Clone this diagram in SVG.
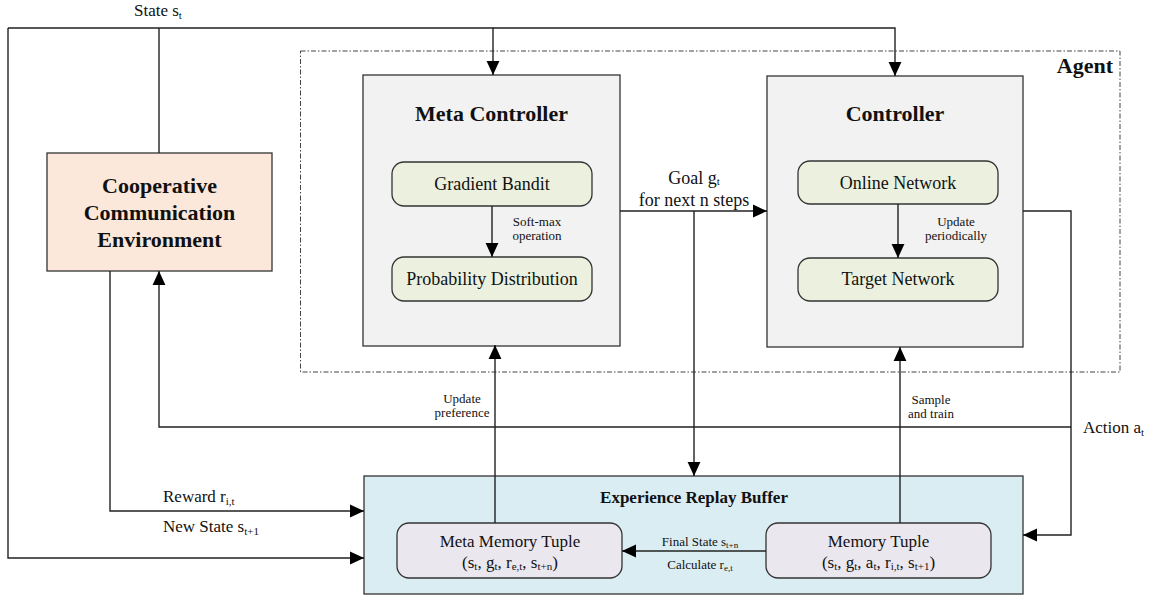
<svg xmlns="http://www.w3.org/2000/svg" width="1154" height="599" viewBox="0 0 1154 599">
<style>
text{font-family:"Liberation Serif","Times New Roman",serif;fill:#111}
.b{font-weight:bold}
.t22{font-size:22px}
.t18{font-size:18px}
.t17{font-size:17px}
.t13{font-size:13px}
.sub{font-size:11px}
.sub9{font-size:9px}
.box{stroke:#333;stroke-width:1.3}
.ln{fill:none;stroke:#222;stroke-width:1.4}
.arr{marker-end:url(#ah)}
</style>
<defs>
<marker id="ah" markerUnits="userSpaceOnUse" markerWidth="14" markerHeight="14" viewBox="0 0 12 12" refX="12" refY="6" orient="auto">
<path d="M0,0.5 L12,6 L0,11.5 Z" fill="#000"/>
</marker>
</defs>
<rect width="1154" height="599" fill="#fff"/>

<g id="agent">
<rect x="300.5" y="51" width="819.5" height="321" fill="none" stroke="#444" stroke-width="1" stroke-dasharray="5 2 1.5 2"/>
<text class="b t22" x="1113" y="73" text-anchor="end">Agent</text>
</g>

<g id="env">
<rect class="box" x="47" y="153" width="225" height="118" fill="#fce8db"/>
<text class="b t22" x="159.5" y="193" text-anchor="middle">Cooperative</text>
<text class="b t22" x="159.5" y="220" text-anchor="middle">Communication</text>
<text class="b t22" x="159.5" y="247" text-anchor="middle">Environment</text>
</g>

<g id="meta-controller">
<rect class="box" x="363" y="75" width="257" height="271" fill="#f2f2f2"/>
<text class="b t22" x="491.5" y="121" text-anchor="middle">Meta Controller</text>
</g>
<g id="gradient-bandit">
<rect class="box" x="392" y="162" width="200" height="44" rx="12" fill="#ebf1de"/>
<text class="t18" x="492" y="190" text-anchor="middle">Gradient Bandit</text>
</g>
<g id="probability-distribution">
<rect class="box" x="392" y="257" width="200" height="44" rx="12" fill="#ebf1de"/>
<text class="t18" x="492" y="285" text-anchor="middle">Probability Distribution</text>
</g>

<g id="controller">
<rect class="box" x="767" y="76" width="256" height="271" fill="#f2f2f2"/>
<text class="b t22" x="895" y="121" text-anchor="middle">Controller</text>
</g>
<g id="online-network">
<rect class="box" x="798" y="161" width="200" height="43" rx="12" fill="#ebf1de"/>
<text class="t18" x="898" y="189" text-anchor="middle">Online Network</text>
</g>
<g id="target-network">
<rect class="box" x="798" y="258" width="200" height="43" rx="12" fill="#ebf1de"/>
<text class="t18" x="898" y="285" text-anchor="middle">Target Network</text>
</g>

<g id="buffer">
<rect class="box" x="364" y="476" width="659" height="118" fill="#daedf3"/>
<text class="b t17" x="694" y="503" text-anchor="middle">Experience Replay Buffer</text>
</g>
<g id="meta-memory-tuple">
<rect class="box" x="397" y="523" width="225" height="55" rx="12" fill="#ebe7ef"/>
<text class="t17" x="510" y="547" text-anchor="middle">Meta Memory Tuple</text>
<text class="t17" x="510" y="568" text-anchor="middle">(s<tspan class="sub" dy="2">t</tspan><tspan dy="-2">, g</tspan><tspan class="sub" dy="2">t</tspan><tspan dy="-2">, r</tspan><tspan class="sub" dy="2">e,t</tspan><tspan dy="-2">, s</tspan><tspan class="sub" dy="2">t+n</tspan><tspan dy="-2">)</tspan></text>
</g>
<g id="memory-tuple">
<rect class="box" x="766" y="523" width="225" height="55" rx="12" fill="#ebe7ef"/>
<text class="t17" x="878.5" y="547" text-anchor="middle">Memory Tuple</text>
<text class="t17" x="878.5" y="568" text-anchor="middle">(s<tspan class="sub" dy="2">t</tspan><tspan dy="-2">, g</tspan><tspan class="sub" dy="2">t</tspan><tspan dy="-2">, a</tspan><tspan class="sub" dy="2">t</tspan><tspan dy="-2">, r</tspan><tspan class="sub" dy="2">i,t</tspan><tspan dy="-2">, s</tspan><tspan class="sub" dy="2">t+1</tspan><tspan dy="-2">)</tspan></text>
</g>

<g id="connectors">
<path class="ln" d="M159,153 V28"/>
<path class="ln arr" d="M8,28 H493 V75"/>
<path class="ln arr" d="M493,28 H895 V76"/>
<path class="ln arr" d="M8,28 V558 H364"/>
<path class="ln arr" d="M110,271 V511 H364"/>
<path class="ln arr" d="M620,211 H767"/>
<path class="ln arr" d="M694,211 V476"/>
<path class="ln arr" d="M1023,211 H1071 V535 H1023"/>
<path class="ln arr" d="M1071,427 H159 V271"/>
<path class="ln arr" d="M495,523 V345"/>
<path class="ln arr" d="M900,523 V347"/>
<path class="ln arr" d="M492,206 V257"/>
<path class="ln arr" d="M898,204 V258"/>
<path class="ln arr" d="M766,551 H622"/>
</g>

<g id="labels">
<text class="t17" x="134" y="16">State s<tspan class="sub" dy="3">t</tspan></text>
<text class="t18" x="694" y="184" text-anchor="middle">Goal g<tspan class="sub" dy="1">t</tspan></text>
<text class="t18" x="694" y="206" text-anchor="middle">for next n steps</text>
<text class="t13" x="537" y="226" text-anchor="middle">Soft-max</text>
<text class="t13" x="537" y="240" text-anchor="middle">operation</text>
<text class="t13" x="956" y="226" text-anchor="middle">Update</text>
<text class="t13" x="956" y="240" text-anchor="middle">periodically</text>
<text class="t13" x="462" y="403" text-anchor="middle">Update</text>
<text class="t13" x="462" y="417" text-anchor="middle">preference</text>
<text class="t13" x="931" y="404" text-anchor="middle">Sample</text>
<text class="t13" x="931" y="418" text-anchor="middle">and train</text>
<text class="t17" x="1083" y="433">Action a<tspan class="sub" dy="3">t</tspan></text>
<text class="t17" x="163" y="502">Reward r<tspan class="sub" dy="3">i,t</tspan></text>
<text class="t17" x="163" y="532">New State s<tspan class="sub" dy="3">t+1</tspan></text>
<text class="t13" x="700" y="546" text-anchor="middle">Final State s<tspan class="sub9" dy="2">t+n</tspan></text>
<text class="t13" x="700" y="569" text-anchor="middle">Calculate r<tspan class="sub9" dy="2">e,t</tspan></text>
</g>
</svg>
